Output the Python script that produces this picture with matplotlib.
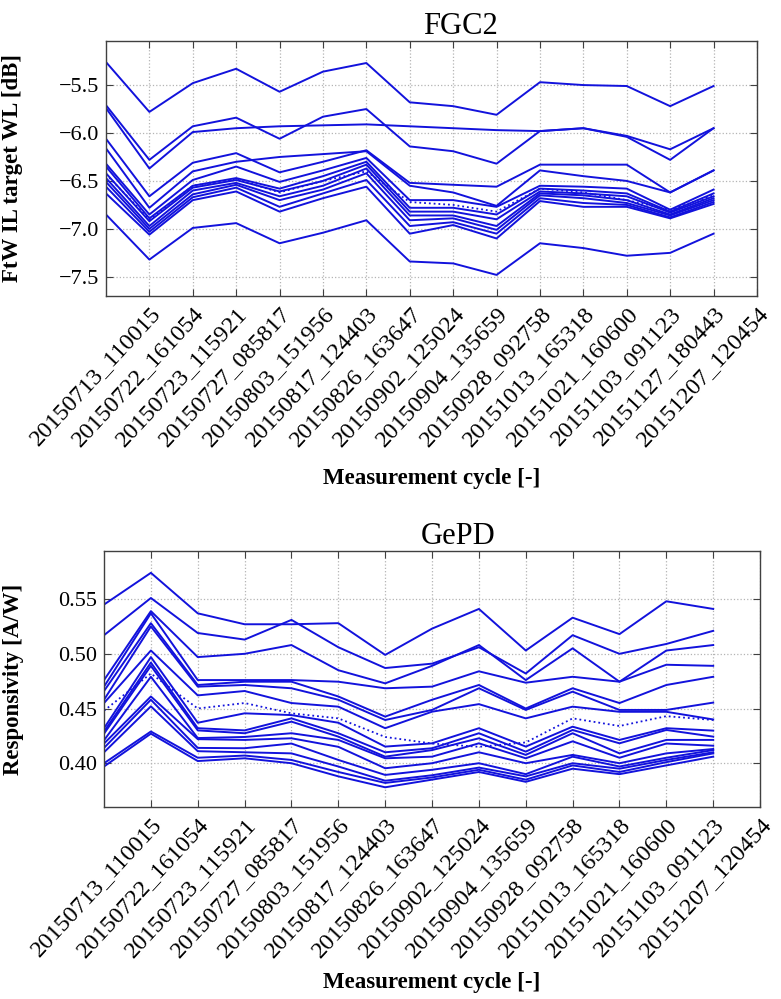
import matplotlib
matplotlib.use("Agg")
import matplotlib.pyplot as plt

plt.rcParams['font.family'] = ['Liberation Serif', 'DejaVu Serif']

# measurement cycles (FGC2 has one more than GePD)
cycles_fgc2 = ["20150713_110015", "20150722_161054", "20150723_115921", "20150727_085817",
               "20150803_151956", "20150817_124403", "20150826_163647", "20150902_125024",
               "20150904_135659", "20150928_092758", "20151013_165318", "20151021_160600",
               "20151103_091123", "20151127_180443", "20151207_120454"]
cycles_gepd = ["20150713_110015", "20150722_161054", "20150723_115921", "20150727_085817",
               "20150803_151956", "20150817_124403", "20150826_163647", "20150902_125024",
               "20150904_135659", "20150928_092758", "20151013_165318", "20151021_160600",
               "20151103_091123", "20151207_120454"]

# FGC2: FtW IL at target WL [dB], one list per device
fgc2_lines = [
    [-5.26, -5.78, -5.48, -5.33, -5.57, -5.36, -5.27, -5.68, -5.72, -5.81, -5.47, -5.50, -5.51, -5.72, -5.51],
    [-5.71, -6.28, -5.93, -5.84, -6.06, -5.83, -5.75, -6.14, -6.19, -6.32, -5.98, -5.95, -6.04, -6.28, -5.95],
    [-5.74, -6.37, -5.99, -5.95, -5.93, -5.92, -5.91, -5.93, -5.95, -5.97, -5.98, -5.95, -6.03, -6.17, -5.95],
    [-6.06, -6.66, -6.31, -6.21, -6.41, -6.30, -6.18, -6.52, -6.54, -6.56, -6.33, -6.33, -6.33, -6.62, -6.39],
    [-6.16, -6.78, -6.40, -6.30, -6.25, -6.22, -6.19, -6.55, -6.62, -6.76, -6.39, -6.45, -6.50, -6.62, -6.39],
    [-6.32, -6.85, -6.49, -6.35, -6.51, -6.39, -6.26, -6.70, -6.70, -6.77, -6.55, -6.56, -6.58, -6.80, -6.59],
    [-6.35, -6.89, -6.55, -6.47, -6.58, -6.45, -6.30, -6.78, -6.78, -6.85, -6.58, -6.60, -6.63, -6.82, -6.63],
    [-6.42, -6.92, -6.57, -6.49, -6.61, -6.50, -6.33, -6.82, -6.82, -6.90, -6.61, -6.63, -6.66, -6.83, -6.66],
    [-6.47, -6.97, -6.60, -6.52, -6.66, -6.55, -6.37, -6.86, -6.86, -6.97, -6.63, -6.65, -6.70, -6.85, -6.68],
    [-6.51, -7.00, -6.64, -6.54, -6.70, -6.59, -6.42, -6.91, -6.89, -7.01, -6.65, -6.68, -6.73, -6.86, -6.70],
    [-6.56, -7.03, -6.67, -6.57, -6.77, -6.63, -6.49, -6.97, -6.93, -7.05, -6.68, -6.73, -6.75, -6.88, -6.72],
    [-6.63, -7.06, -6.70, -6.61, -6.82, -6.68, -6.56, -7.05, -6.96, -7.10, -6.71, -6.77, -6.77, -6.89, -6.74],
    [-6.85, -7.32, -6.99, -6.94, -7.15, -7.04, -6.91, -7.34, -7.36, -7.48, -7.15, -7.20, -7.28, -7.25, -7.05],
]
fgc2_dotted = [-6.43, -6.90, -6.55, -6.48, -6.62, -6.50, -6.40, -6.72, -6.75, -6.82, -6.58, -6.62, -6.70, -6.80, -6.65]

# GePD: responsivity [A/W]
gepd_lines = [
    [0.545, 0.574, 0.537, 0.527, 0.527, 0.528, 0.499, 0.523, 0.541, 0.503, 0.533, 0.518, 0.548, 0.541],
    [0.517, 0.551, 0.519, 0.513, 0.531, 0.506, 0.487, 0.491, 0.506, 0.482, 0.517, 0.500, 0.509, 0.521],
    [0.476, 0.539, 0.497, 0.500, 0.508, 0.485, 0.473, 0.489, 0.508, 0.476, 0.505, 0.4745, 0.503, 0.508],
    [0.470, 0.537, 0.476, 0.476, 0.476, 0.4745, 0.4685, 0.470, 0.484, 0.4736, 0.479, 0.4745, 0.490, 0.489],
    [0.466, 0.528, 0.4715, 0.4745, 0.4745, 0.461, 0.4426, 0.458, 0.4715, 0.450, 0.4685, 0.455, 0.4715, 0.479],
    [0.458, 0.525, 0.470, 0.4715, 0.4685, 0.458, 0.4395, 0.4487, 0.4685, 0.4487, 0.4654, 0.4487, 0.4487, 0.4554],
    [0.455, 0.503, 0.462, 0.466, 0.455, 0.4517, 0.432, 0.4471, 0.454, 0.441, 0.4517, 0.447, 0.447, 0.440],
    [0.432, 0.497, 0.437, 0.4456, 0.444, 0.437, 0.4152, 0.4182, 0.432, 0.4152, 0.4334, 0.4213, 0.432, 0.4298],
    [0.429, 0.492, 0.432, 0.430, 0.441, 0.4274, 0.410, 0.4137, 0.4274, 0.4106, 0.4304, 0.4182, 0.4304, 0.4243],
    [0.427, 0.489, 0.430, 0.4274, 0.438, 0.4243, 0.406, 0.412, 0.4228, 0.4076, 0.4274, 0.409, 0.4213, 0.4213],
    [0.421, 0.479, 0.423, 0.424, 0.4274, 0.4213, 0.4045, 0.406, 0.4182, 0.4045, 0.420, 0.405, 0.418, 0.416],
    [0.418, 0.461, 0.422, 0.4213, 0.4228, 0.415, 0.3954, 0.400, 0.410, 0.400, 0.4076, 0.400, 0.409, 0.413],
    [0.414, 0.458, 0.414, 0.4137, 0.418, 0.403, 0.3893, 0.394, 0.400, 0.390, 0.406, 0.397, 0.405, 0.412],
    [0.410, 0.452, 0.411, 0.410, 0.409, 0.397, 0.384, 0.389, 0.396, 0.388, 0.400, 0.395, 0.403, 0.410],
    [0.400, 0.429, 0.405, 0.407, 0.403, 0.392, 0.382, 0.387, 0.394, 0.385, 0.398, 0.392, 0.401, 0.409],
    [0.397, 0.427, 0.402, 0.4045, 0.400, 0.388, 0.378, 0.385, 0.392, 0.383, 0.395, 0.390, 0.398, 0.406],
]
gepd_dotted = [0.448, 0.482, 0.450, 0.455, 0.4456, 0.441, 0.424, 0.418, 0.415, 0.419, 0.441, 0.434, 0.443, 0.4395]

line_color = '#1212dc'
spine_color = '#404040'


def style_axes(ax, labels, yticks, yfmt):
    n = len(labels)
    ax.set_xlim(0, n)
    ax.set_xticks(range(1, n + 1))
    ax.set_xticklabels(labels, rotation=47, ha='right', va='top',
                       rotation_mode='anchor', fontsize=17.5)
    ax.set_yticks(yticks)
    ax.set_yticklabels([yfmt.format(v).replace('-', '\u2212') for v in yticks], fontsize=16)
    ax.tick_params(direction='in', top=True, right=True, length=5, width=0.8,
                   color=spine_color, pad=5)
    ax.grid(True, linestyle=':', color='#b4b4b4', linewidth=0.9)
    for s in ax.spines.values():
        s.set_color(spine_color)
        s.set_linewidth(1.0)


fig = plt.figure(figsize=(7.81, 9.99), dpi=100)

ax1 = fig.add_axes([0.1357, 0.7037, 0.8335, 0.2553])
x1 = list(range(len(cycles_fgc2)))
for vals in fgc2_lines:
    ax1.plot(x1, vals, color=line_color, linewidth=1.4)
ax1.plot(x1, fgc2_dotted, color=line_color, linewidth=1.3, linestyle=':')
style_axes(ax1, cycles_fgc2, [-7.5, -7.0, -6.5, -6.0, -5.5], "{:.1f}")
ax1.set_ylim(-7.70, -5.04)
ax1.set_title("FGC2", fontsize=22, x=0.545, pad=5)
ax1.set_ylabel("FtW IL target WL [dB]", fontsize=16.5, fontweight='bold')
ax1.yaxis.set_label_coords(-0.128, 0.5)
ax1.set_xlabel("Measurement cycle [-]", fontsize=16.5, fontweight='bold')
ax1.xaxis.set_label_coords(0.5, -0.675)

ax2 = fig.add_axes([0.1332, 0.1922, 0.8400, 0.2563])
x2 = list(range(len(cycles_gepd)))
for vals in gepd_lines:
    ax2.plot(x2, vals, color=line_color, linewidth=1.4)
ax2.plot(x2, gepd_dotted, color=line_color, linewidth=1.3, linestyle=':')
style_axes(ax2, cycles_gepd, [0.40, 0.45, 0.50, 0.55], "{:.2f}")
ax2.set_ylim(0.36, 0.594)
ax2.set_title("GePD", fontsize=22, x=0.54, pad=5)
ax2.set_ylabel("Responsivity [A/W]", fontsize=16.5, fontweight='bold')
ax2.yaxis.set_label_coords(-0.122, 0.5)
ax2.set_xlabel("Measurement cycle [-]", fontsize=16.5, fontweight='bold')
ax2.xaxis.set_label_coords(0.5, -0.645)

fig.savefig("out.png", dpi=100)
